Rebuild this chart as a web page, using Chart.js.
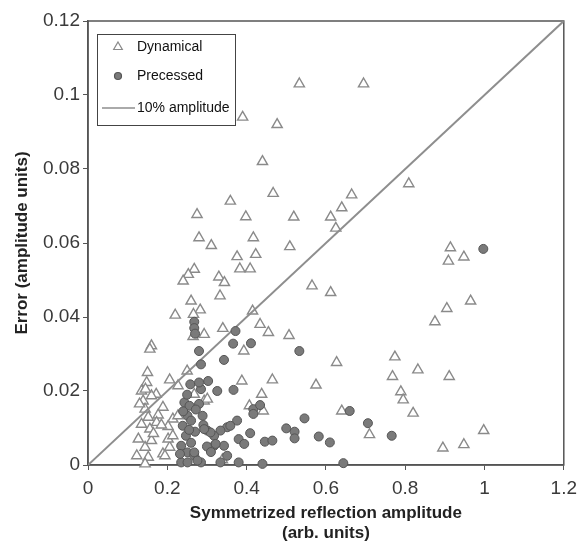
<!DOCTYPE html>
<html>
<head>
<meta charset="utf-8">
<script src="https://cdn.jsdelivr.net/npm/chart.js@4.4.1/dist/chart.umd.min.js"></script>
<style>
  html, body { margin: 0; padding: 0; background: #fff; }
  #wrap { width: 584px; height: 543px; }
</style>
</head>
<body>
<div id="wrap"><canvas id="chart" width="584" height="543"></canvas></div>
<script>
// axis ticks
const xTickValues = [0, 0.2, 0.4, 0.6, 0.8, 1, 1.2];
const xTickLabels = ['0', '0.2', '0.4', '0.6', '0.8', '1', '1.2'];
const yTickValues = [0, 0.02, 0.04, 0.06, 0.08, 0.1, 0.12];
const yTickLabels = ['0', '0.02', '0.04', '0.06', '0.08', '0.1', '0.12'];

// Dynamical (open triangles)
const dynX = [
  0.533, 0.695, 0.39, 0.477, 0.44, 0.809, 0.665, 0.64, 0.612, 0.625,
  0.519, 0.509, 0.914, 0.948, 0.909, 0.565, 0.612, 0.965, 0.905, 0.875,
  0.627, 0.774, 0.768, 0.832, 0.911, 0.789, 0.795, 0.82, 0.575, 0.64,
  0.71, 0.998, 0.948, 0.895,
  0.467, 0.359, 0.275, 0.398, 0.28, 0.417, 0.311, 0.376, 0.423, 0.268,
  0.383, 0.409, 0.253, 0.24, 0.33, 0.344, 0.333, 0.26, 0.283, 0.22,
  0.415, 0.434, 0.455, 0.507, 0.34, 0.293, 0.266, 0.265,
  0.16, 0.156, 0.393, 0.15, 0.148, 0.206, 0.227, 0.135, 0.172, 0.16,
  0.139, 0.144, 0.189, 0.177, 0.152, 0.135, 0.173, 0.214, 0.202, 0.156,
  0.227, 0.268, 0.293, 0.388, 0.127, 0.144, 0.16, 0.123, 0.152, 0.189,
  0.206, 0.202, 0.214, 0.144, 0.465, 0.301, 0.438, 0.407, 0.442, 0.339,
  0.25, 0.194, 0.13, 0.165, 0.145, 0.185
];
const dynY = [
  0.103, 0.103, 0.094, 0.092, 0.082, 0.076, 0.073, 0.0695, 0.067, 0.064,
  0.067, 0.059, 0.0587, 0.0562, 0.0551, 0.0484, 0.0466, 0.0443, 0.0423, 0.0387,
  0.0277, 0.0292, 0.0239, 0.0257, 0.0239, 0.0198, 0.0176, 0.014, 0.0216, 0.0146,
  0.0082, 0.0093, 0.0055, 0.0046,
  0.0734, 0.0713, 0.0677, 0.0671, 0.0614, 0.0614, 0.0593, 0.0563, 0.0569, 0.0529,
  0.053, 0.053, 0.0515, 0.0497, 0.0508, 0.0493, 0.0457, 0.0443, 0.0419, 0.0405,
  0.0416, 0.038, 0.0358, 0.035, 0.0369, 0.0353, 0.0407, 0.0347,
  0.0322, 0.0313, 0.0308, 0.025, 0.0223, 0.023, 0.0214, 0.02, 0.0191, 0.0187,
  0.0173, 0.0151, 0.0156, 0.0135, 0.0129, 0.011, 0.0115, 0.0124, 0.0104, 0.0097,
  0.0133, 0.0191, 0.0173, 0.0227, 0.007, 0.0048, 0.0066, 0.0025, 0.0021, 0.003,
  0.0048, 0.007, 0.0079, 0.0003, 0.023, 0.0178, 0.0191, 0.016, 0.0146, 0.0014,
  0.0254, 0.0025, 0.0165, 0.0085, 0.0205, 0.0108
];

// Precessed (filled circles)
const preX = [
  0.997, 0.533, 0.66, 0.706, 0.766, 0.582, 0.61, 0.644,
  0.268, 0.268, 0.27, 0.372, 0.366, 0.411, 0.28, 0.343, 0.285,
  0.258, 0.285, 0.303, 0.28, 0.326, 0.367, 0.243, 0.256, 0.417,
  0.434, 0.417, 0.546, 0.5, 0.521, 0.521, 0.409, 0.38, 0.394,
  0.446, 0.465, 0.289, 0.291, 0.301, 0.239, 0.247, 0.235, 0.251,
  0.235, 0.351, 0.376, 0.334, 0.318, 0.318, 0.343, 0.351, 0.38,
  0.44, 0.334, 0.268, 0.285, 0.251, 0.251, 0.359, 0.309, 0.293,
  0.322, 0.268, 0.276, 0.26, 0.27, 0.26,
  0.24, 0.25, 0.232, 0.255, 0.28, 0.3, 0.31, 0.272
];
const preY = [
  0.0584, 0.0308, 0.0146, 0.0113, 0.0079, 0.0077, 0.0061, 0.0005,
  0.0387, 0.037, 0.0355, 0.0362, 0.0328, 0.0329, 0.0308, 0.0284, 0.0272,
  0.0218, 0.0205, 0.0227, 0.0223, 0.02, 0.0203, 0.0169, 0.016, 0.0151,
  0.0162, 0.0138, 0.0126, 0.0099, 0.009, 0.0072, 0.0086, 0.007, 0.0057,
  0.0063, 0.0066, 0.0133, 0.0108, 0.0093, 0.0106, 0.0079, 0.0052, 0.0034,
  0.0007, 0.0102, 0.012, 0.0093, 0.0079, 0.0052, 0.0052, 0.0025, 0.0007,
  0.0003, 0.0007, 0.0025, 0.0007, 0.0007, 0.0133, 0.0106, 0.0088, 0.0097,
  0.0057, 0.0034, 0.0012, 0.012, 0.009, 0.006,
  0.0145, 0.019, 0.003, 0.0095, 0.0165, 0.005, 0.0035, 0.015
];

// 10% amplitude reference line
const refX = [0, 1.2];
const refY = [0, 0.12];

function toPoints(xs, ys) {
  return xs.map((x, i) => ({ x: x, y: ys[i] }));
}

// frame round the plot area (top and right sides too)
const framePlugin = {
  id: 'frame',
  beforeDatasetsDraw(chart) {
    const { ctx, chartArea: a } = chart;
    ctx.save();
    ctx.strokeStyle = '#555';
    ctx.lineWidth = 1.5;
    ctx.strokeRect(a.left, a.top, a.right - a.left, a.bottom - a.top);
    ctx.restore();
  }
};

// boxed legend inside the plot, top left
const boxLegend = {
  id: 'boxLegend',
  afterDatasetsDraw(chart) {
    const { ctx, chartArea: a } = chart;
    const ds = chart.data.datasets;
    const left = a.left + 9, top = a.top + 13, w = 138, h = 91;
    ctx.save();
    ctx.fillStyle = '#fff';
    ctx.fillRect(left, top, w, h);
    ctx.strokeStyle = '#444';
    ctx.lineWidth = 1;
    ctx.strokeRect(left + 0.5, top + 0.5, w, h);

    const rows = [top + 13, top + 42, top + 74];
    const mx = left + 21;
    // triangle
    ctx.fillStyle = ds[0].backgroundColor;
    ctx.strokeStyle = ds[0].borderColor;
    ctx.lineWidth = 1.2;
    ctx.beginPath();
    const r = 5;
    ctx.moveTo(mx, rows[0] - r);
    ctx.lineTo(mx + r * 0.866, rows[0] + r * 0.5);
    ctx.lineTo(mx - r * 0.866, rows[0] + r * 0.5);
    ctx.closePath();
    ctx.fill();
    ctx.stroke();
    // circle
    ctx.fillStyle = ds[1].backgroundColor;
    ctx.strokeStyle = ds[1].borderColor;
    ctx.beginPath();
    ctx.arc(mx, rows[1], 3.5, 0, Math.PI * 2);
    ctx.fill();
    ctx.stroke();
    // line
    ctx.strokeStyle = ds[2].borderColor;
    ctx.lineWidth = 1.5;
    ctx.beginPath();
    ctx.moveTo(left + 5, rows[2]);
    ctx.lineTo(left + 38, rows[2]);
    ctx.stroke();

    ctx.fillStyle = '#111';
    ctx.font = '14px "Liberation Sans", Arial, sans-serif';
    ctx.textBaseline = 'middle';
    ctx.textAlign = 'left';
    ds.forEach((d, i) => ctx.fillText(d.label, left + 40, rows[i]));
    ctx.restore();
  }
};

const tickFont = { family: '"Liberation Sans", Arial, sans-serif', size: 19 };
const titleFont = { family: '"Liberation Sans", Arial, sans-serif', size: 17, weight: 'bold', lineHeight: 1.15 };

new Chart(document.getElementById('chart'), {
  type: 'scatter',
  data: {
    datasets: [
      {
        label: 'Dynamical',
        data: toPoints(dynX, dynY),
        pointStyle: 'triangle',
        pointRadius: 5.9,
        backgroundColor: '#ffffff',
        borderColor: '#8a8a8a',
        borderWidth: 1.4,
        clip: false,
        order: 3
      },
      {
        label: 'Precessed',
        data: toPoints(preX, preY),
        pointStyle: 'circle',
        pointRadius: 4.5,
        backgroundColor: '#7a7a7a',
        borderColor: '#555555',
        borderWidth: 1,
        clip: false,
        order: 1
      },
      {
        type: 'line',
        label: '10% amplitude',
        data: toPoints(refX, refY),
        borderColor: '#8e8e8e',
        borderWidth: 2,
        pointRadius: 0,
        fill: false,
        order: 2
      }
    ]
  },
  options: {
    responsive: false,
    animation: false,
    layout: { padding: { top: 21, right: 13, left: 0, bottom: 0 } },
    plugins: {
      legend: { display: false },
      tooltip: { enabled: false }
    },
    scales: {
      x: {
        type: 'linear',
        min: 0,
        max: 1.2,
        afterBuildTicks(scale) {
          scale.ticks = xTickValues.map(v => ({ value: v }));
        },
        afterFit(scale) { scale.height = 78; },
        ticks: {
          font: tickFont,
          color: '#3a3a3a',
          padding: 7,
          maxRotation: 0,
          callback: (v, i) => xTickLabels[i]
        },
        grid: { drawOnChartArea: false, drawTicks: true, tickLength: 5, color: '#555' },
        border: { color: '#555', width: 1.5 },
        title: {
          display: true,
          text: ['Symmetrized reflection amplitude', '(arb. units)'],
          font: titleFont,
          color: '#222',
          padding: { top: 0, bottom: 0 }
        }
      },
      y: {
        type: 'linear',
        min: 0,
        max: 0.12,
        afterBuildTicks(scale) {
          scale.ticks = yTickValues.map(v => ({ value: v }));
        },
        afterFit(scale) { scale.width = 88; },
        ticks: {
          font: tickFont,
          color: '#3a3a3a',
          padding: 3,
          callback: (v, i) => yTickLabels[i]
        },
        grid: { drawOnChartArea: false, drawTicks: true, tickLength: 5, color: '#555' },
        border: { color: '#555', width: 1.5 },
        title: {
          display: true,
          text: 'Error (amplitude units)',
          font: titleFont,
          color: '#222',
          padding: { top: 13, bottom: 0 }
        }
      }
    }
  },
  plugins: [framePlugin, boxLegend]
});
</script>
</body>
</html>
